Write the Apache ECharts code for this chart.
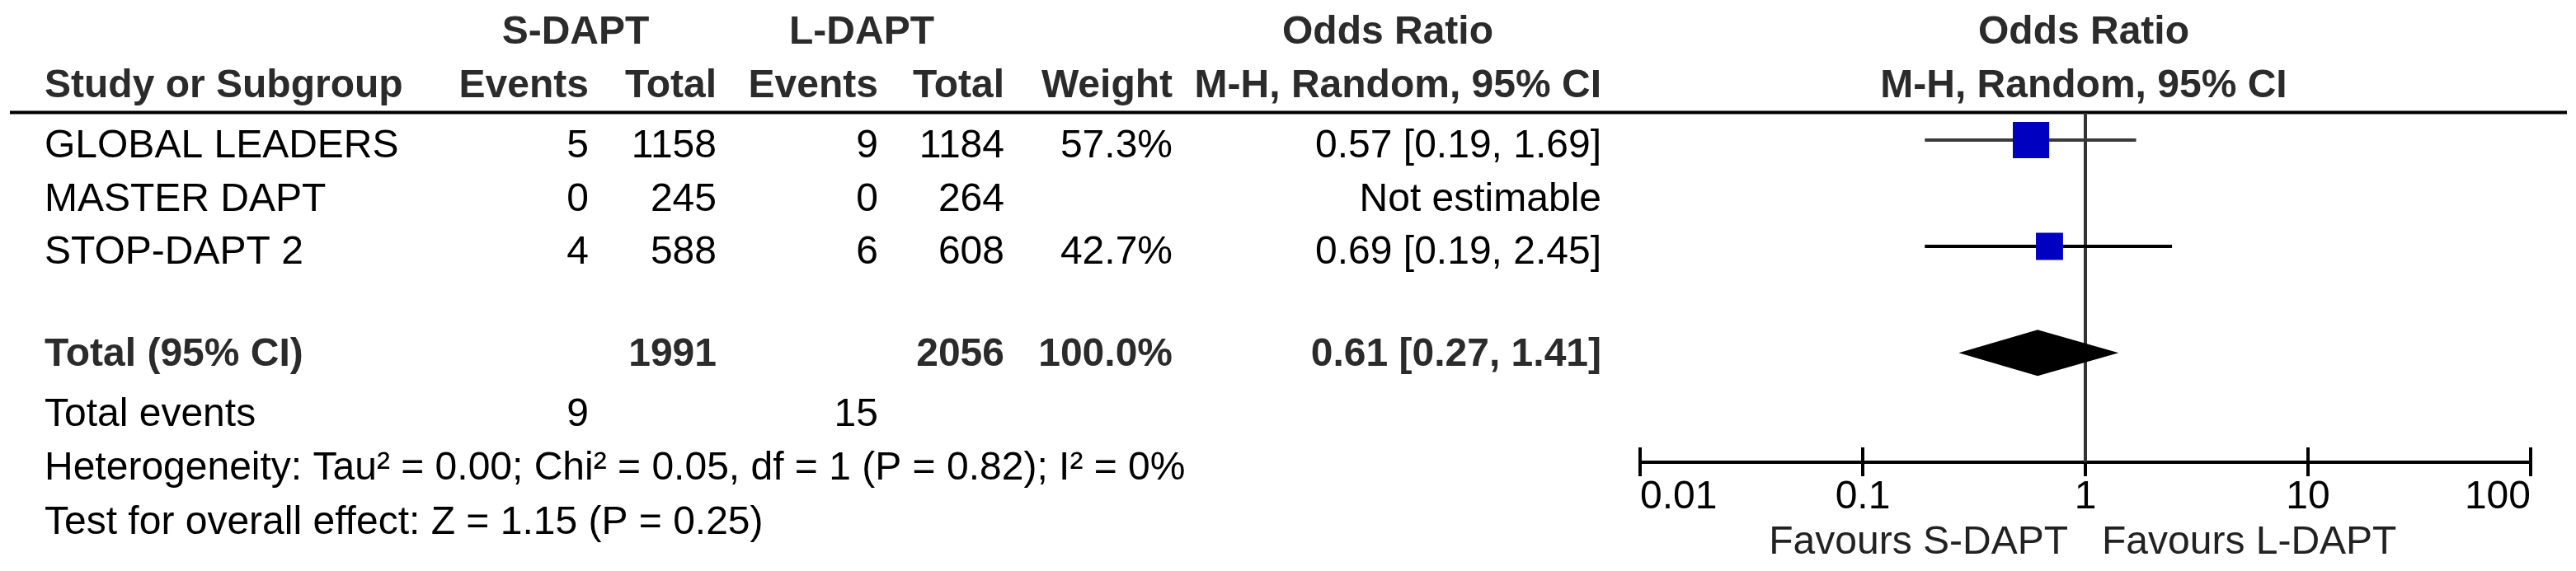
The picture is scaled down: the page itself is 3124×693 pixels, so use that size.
<!DOCTYPE html>
<html>
<head>
<meta charset="utf-8">
<script src="https://cdn.jsdelivr.net/npm/echarts@6/dist/echarts.min.js"></script>
<style>
html,body{margin:0;padding:0;background:#fff;}
#chart{width:3124px;height:693px;}
</style>
</head>
<body>
<div id="chart"></div>
<script>
// ---------------- DATA ----------------
const studies   = ['GLOBAL LEADERS', 'MASTER DAPT', 'STOP-DAPT 2'];
const sEvents   = [5, 0, 4];
const sTotal    = [1158, 245, 588];
const lEvents   = [9, 0, 6];
const lTotal    = [1184, 264, 608];
const weights   = [57.3, null, 42.7];
const oddsRatio = [0.57, null, 0.69];
const ciLow     = [0.19, null, 0.19];
const ciHigh    = [1.69, null, 2.45];

const pooledOR   = 0.61;
const pooledLow  = 0.27;
const pooledHigh = 1.41;
const totalS = 1991, totalL = 2056, totalWeight = 100.0;
const totalEventsS = 9, totalEventsL = 15;

const groupHeaders  = ['S-DAPT', 'L-DAPT', 'Odds Ratio', 'Odds Ratio'];
const columnHeaders = ['Study or Subgroup', 'Events', 'Total', 'Events', 'Total', 'Weight', 'M-H, Random, 95% CI', 'M-H, Random, 95% CI'];
const heterogeneityText = 'Heterogeneity: Tau\u00b2 = 0.00; Chi\u00b2 = 0.05, df = 1 (P = 0.82); I\u00b2 = 0%';
const overallEffectText = 'Test for overall effect: Z = 1.15 (P = 0.25)';
const notEstimableText = 'Not estimable';
const totalLabel = 'Total (95% CI)';
const totalEventsLabel = 'Total events';

const tickValues = [0.01, 0.1, 1, 10, 100];
const tickLabels = ['0.01', '0.1', '1', '10', '100'];
const favoursLabels = ['Favours S-DAPT', 'Favours L-DAPT'];

// ---------------- LAYOUT / STYLE ----------------
const W = 3124, H = 693;
const FONT = "'Liberation Sans', Arial, Helvetica, sans-serif";
const FS = 48;
const ROW0 = 178, ROW_STEP = 64.5;              // pixel y of row 0 and row spacing
const COL = {name: 54, sEv: 714, sTot: 869, lEv: 1065, lTot: 1218, wt: 1422, or: 1942,
             sHead: 698, lHead: 1045, orHead: 1683, plotHead: 2527};
const ROWS = {head1: -2.14, head2: -1.14, line: -0.643, total: 3.915, events: 5.054, het: 6.054, test: 7.078, fav: 7.457};
const MARK_SHIFT = -0.124;                       // marks sit slightly above text middle
const DIAMOND_ROW = 3.88;
const PLOT = {left: 1989, right: 55, top: 137, bottom: 132};
const SQUARE_PER_WEIGHT = 0.77;
const DIAMOND_HALF = 28;
const HEAD_COLOR = '#2b2b2b';

function px2row(p) { return (p - ROW0) / ROW_STEP; }

// ---------------- TABLE CELLS ----------------
const cells = [];
function cell(x, row, text, align, bold) {
  cells.push({x: x, row: row, text: String(text), align: align, bold: !!bold});
}
// headers
cell(COL.sHead, ROWS.head1, groupHeaders[0], 'center', true);
cell(COL.lHead, ROWS.head1, groupHeaders[1], 'center', true);
cell(COL.orHead, ROWS.head1, groupHeaders[2], 'center', true);
cell(COL.plotHead, ROWS.head1, groupHeaders[3], 'center', true);
cell(COL.name, ROWS.head2, columnHeaders[0], 'left', true);
cell(COL.sEv, ROWS.head2, columnHeaders[1], 'right', true);
cell(COL.sTot, ROWS.head2, columnHeaders[2], 'right', true);
cell(COL.lEv, ROWS.head2, columnHeaders[3], 'right', true);
cell(COL.lTot, ROWS.head2, columnHeaders[4], 'right', true);
cell(COL.wt, ROWS.head2, columnHeaders[5], 'right', true);
cell(COL.or, ROWS.head2, columnHeaders[6], 'right', true);
cell(COL.plotHead, ROWS.head2, columnHeaders[7], 'center', true);
// study rows
studies.forEach(function (s, i) {
  cell(COL.name, i, s, 'left');
  cell(COL.sEv, i, sEvents[i], 'right');
  cell(COL.sTot, i, sTotal[i], 'right');
  cell(COL.lEv, i, lEvents[i], 'right');
  cell(COL.lTot, i, lTotal[i], 'right');
  if (weights[i] != null) cell(COL.wt, i, weights[i].toFixed(1) + '%', 'right');
  if (oddsRatio[i] != null) {
    cell(COL.or, i, oddsRatio[i].toFixed(2) + ' [' + ciLow[i].toFixed(2) + ', ' + ciHigh[i].toFixed(2) + ']', 'right');
  } else {
    cell(COL.or, i, notEstimableText, 'right');
  }
});
// total row
cell(COL.name, ROWS.total, totalLabel, 'left', true);
cell(COL.sTot, ROWS.total, totalS, 'right', true);
cell(COL.lTot, ROWS.total, totalL, 'right', true);
cell(COL.wt, ROWS.total, totalWeight.toFixed(1) + '%', 'right', true);
cell(COL.or, ROWS.total, pooledOR.toFixed(2) + ' [' + pooledLow.toFixed(2) + ', ' + pooledHigh.toFixed(2) + ']', 'right', true);
// events & stats
cell(COL.name, ROWS.events, totalEventsLabel, 'left');
cell(COL.sEv, ROWS.events, totalEventsS, 'right');
cell(COL.lEv, ROWS.events, totalEventsL, 'right');
cell(COL.name, ROWS.het, heterogeneityText, 'left');
cell(COL.name, ROWS.test, overallEffectText, 'left');

// ---------------- PLOT DATA ----------------
const est = [];
studies.forEach(function (s, i) {
  if (oddsRatio[i] != null) est.push([oddsRatio[i], i + MARK_SHIFT, ciLow[i], ciHigh[i], weights[i], i]);
});
const ciColors = ['#3a3a3a', '#000000', '#000000'];

const plotYMin = px2row(PLOT.top);
const plotYMax = px2row(H - PLOT.bottom);

const chart = echarts.init(document.getElementById('chart'));
const option = {
  animation: false,
  backgroundColor: '#ffffff',
  grid: [
    {left: 0, right: 0, top: 0, bottom: 0},
    {left: PLOT.left, right: PLOT.right, top: PLOT.top, bottom: PLOT.bottom}
  ],
  xAxis: [
    {gridIndex: 0, type: 'value', min: 0, max: W, show: false},
    {gridIndex: 1, type: 'log', logBase: 10, min: tickValues[0], max: tickValues[tickValues.length - 1],
     position: 'bottom',
     axisLine: {show: true, onZero: false, lineStyle: {color: '#000', width: 4}},
     axisTick: {show: true, inside: false, length: 17, lineStyle: {color: '#000', width: 4}},
     splitLine: {show: false},
     axisLabel: {show: true, margin: 19, color: '#000', fontSize: FS, fontFamily: FONT,
                 alignMinLabel: 'left', alignMaxLabel: 'right',
                 formatter: function (v) {
                   const k = tickValues.findIndex(function (t) { return Math.abs(Math.log10(t) - Math.log10(v)) < 1e-6; });
                   return k >= 0 ? tickLabels[k] : '';
                 }}},
    {gridIndex: 1, type: 'log', logBase: 10, min: tickValues[0], max: tickValues[tickValues.length - 1],
     position: 'bottom', offset: 0,
     axisLine: {show: false, onZero: false},
     axisTick: {show: true, inside: true, length: 18, lineStyle: {color: '#000', width: 4}},
     splitLine: {show: false},
     axisLabel: {show: false}}
  ],
  yAxis: [
    {gridIndex: 0, type: 'value', inverse: true, min: px2row(0), max: px2row(H), show: false},
    {gridIndex: 1, type: 'value', inverse: true, min: plotYMin, max: plotYMax, show: false}
  ],
  series: [
    // header rule
    {
      type: 'custom', xAxisIndex: 0, yAxisIndex: 0, silent: true,
      data: [[12, ROWS.line, 3113]],
      renderItem: function (params, api) {
        const a = api.coord([api.value(0), api.value(1)]);
        const b = api.coord([api.value(2), api.value(1)]);
        return {type: 'line', shape: {x1: a[0], y1: a[1], x2: b[0], y2: b[1]},
                style: {stroke: '#000', lineWidth: 4}};
      }
    },
    // table text
    {
      type: 'custom', xAxisIndex: 0, yAxisIndex: 0, silent: true,
      data: cells.map(function (c) { return [c.x, c.row]; }),
      renderItem: function (params, api) {
        const c = cells[params.dataIndex];
        const p = api.coord([c.x, c.row]);
        return {type: 'text', x: p[0], y: p[1],
                style: {text: c.text, fontSize: FS, fontFamily: FONT, fontWeight: c.bold ? 'bold' : 'normal',
                        fill: c.bold ? HEAD_COLOR : '#000', align: c.align, verticalAlign: 'middle'}};
      }
    },
    // line of no effect
    {
      type: 'custom', xAxisIndex: 1, yAxisIndex: 1, silent: true,
      data: [[1, plotYMin, plotYMax]],
      renderItem: function (params, api) {
        const a = api.coord([api.value(0), api.value(1)]);
        const b = api.coord([api.value(0), api.value(2)]);
        return {type: 'line', shape: {x1: a[0], y1: a[1], x2: b[0], y2: b[1]},
                style: {stroke: '#333', lineWidth: 4}};
      }
    },
    // study CIs and squares
    {
      type: 'custom', xAxisIndex: 1, yAxisIndex: 1, silent: true,
      data: est,
      encode: {x: [0, 2, 3], y: 1},
      renderItem: function (params, api) {
        const d = est[params.dataIndex];
        const c = api.coord([d[0], d[1]]);
        const a = api.coord([d[2], d[1]]);
        const b = api.coord([d[3], d[1]]);
        const s = d[4] * SQUARE_PER_WEIGHT;
        return {type: 'group', children: [
          {type: 'line', shape: {x1: a[0], y1: a[1], x2: b[0], y2: b[1]},
           style: {stroke: ciColors[d[5]], lineWidth: 4}},
          {type: 'rect', shape: {x: c[0] - s / 2, y: c[1] - s / 2, width: s, height: s},
           style: {fill: '#0000c0'}}
        ]};
      }
    },
    // pooled diamond
    {
      type: 'custom', xAxisIndex: 1, yAxisIndex: 1, silent: true,
      data: [[pooledOR, DIAMOND_ROW, pooledLow, pooledHigh]],
      encode: {x: [0, 2, 3], y: 1},
      renderItem: function (params, api) {
        const c = api.coord([api.value(0), api.value(1)]);
        const a = api.coord([api.value(2), api.value(1)]);
        const b = api.coord([api.value(3), api.value(1)]);
        return {type: 'polygon',
                shape: {points: [[a[0], a[1]], [c[0], c[1] - DIAMOND_HALF], [b[0], b[1]], [c[0], c[1] + DIAMOND_HALF]]},
                style: {fill: '#000'}};
      }
    },
    // favours labels
    {
      type: 'custom', xAxisIndex: 1, yAxisIndex: 1, silent: true, clip: false,
      data: [[1, ROWS.fav]],
      renderItem: function (params, api) {
        const p = api.coord([api.value(0), api.value(1)]);
        return {type: 'group', children: [
          {type: 'text', x: p[0] - 21, y: p[1],
           style: {text: favoursLabels[0], fontSize: FS, fontFamily: FONT, fill: '#222', align: 'right', verticalAlign: 'middle'}},
          {type: 'text', x: p[0] + 20, y: p[1],
           style: {text: favoursLabels[1], fontSize: FS, fontFamily: FONT, fill: '#222', align: 'left', verticalAlign: 'middle'}}
        ]};
      }
    }
  ]
};
chart.setOption(option);
</script>
</body>
</html>
